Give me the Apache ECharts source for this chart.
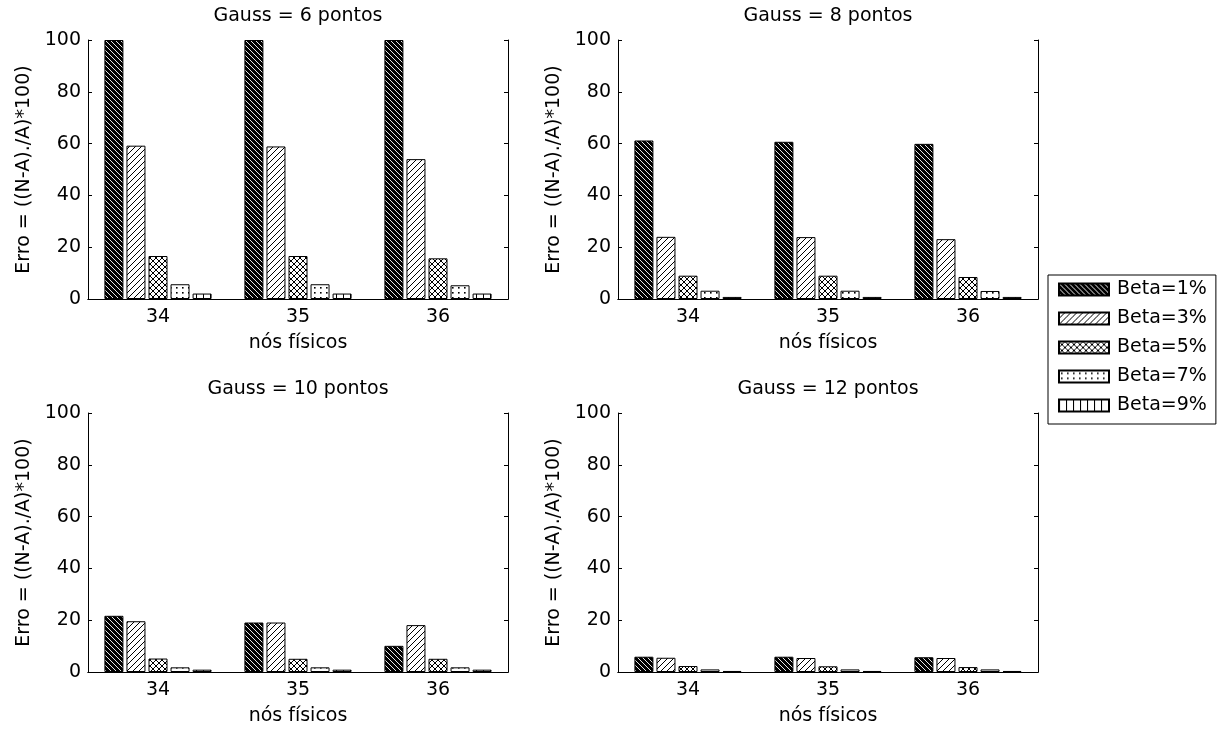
<!DOCTYPE html>
<html>
<head>
<meta charset="utf-8">
<script src="https://cdn.jsdelivr.net/npm/echarts@6/dist/echarts.min.js"></script>
<style>
html,body{margin:0;padding:0;background:#fff;}
#chart{width:1221px;height:731px;}
</style>
</head>
<body>
<div id="chart"></div>
<script>
// ---- data ----
const categories = ['34', '35', '36'];
const seriesNames = ['Beta=1%', 'Beta=3%', 'Beta=5%', 'Beta=7%', 'Beta=9%'];
const panelTitles = ['Gauss = 6 pontos', 'Gauss = 8 pontos', 'Gauss = 10 pontos', 'Gauss = 12 pontos'];
const xLabel = 'nós físicos';
const yLabel = 'Erro = ((N-A)./A)*100)';
// each row: one Beta series across categories 34, 35, 36
const gauss6 = [
  [100, 100, 100],
  [59.2, 58.9, 54.0],
  [16.6, 16.6, 15.7],
  [5.7, 5.7, 5.3],
  [2.1, 2.1, 2.1]
];
const gauss8 = [
  [61.2, 60.7, 59.9],
  [24.0, 23.9, 23.1],
  [9.0, 9.0, 8.5],
  [3.2, 3.2, 3.1],
  [0.8, 0.8, 0.8]
];
const gauss10 = [
  [21.7, 19.1, 10.1],
  [19.6, 19.1, 18.1],
  [5.2, 5.1, 5.1],
  [1.8, 1.8, 1.8],
  [0.9, 0.9, 0.9]
];
const gauss12 = [
  [5.9, 5.9, 5.7],
  [5.5, 5.4, 5.4],
  [2.3, 2.2, 1.9],
  [1.0, 1.0, 1.0],
  [0.4, 0.4, 0.4]
];
const yTicks = [0, 20, 40, 60, 80, 100];
const panels = [gauss6, gauss8, gauss10, gauss12];

// ---- hatch patterns ----
function makePattern(kind) {
  const c = document.createElement('canvas');
  let w = 6, h = 6;
  if (kind === 0) { w = h = 5; }
  if (kind === 3) { w = 6; h = 5; }
  if (kind === 4) { w = 7; h = 4; }
  c.width = w; c.height = h;
  const ctx = c.getContext('2d');
  ctx.fillStyle = kind === 0 ? '#000' : '#fff';
  ctx.fillRect(0, 0, w, h);
  ctx.lineWidth = 1;
  if (kind === 0) {
    ctx.strokeStyle = '#e6e6e6';
    ctx.beginPath();
    for (let k = -1; k <= 1; k++) { ctx.moveTo(k * w, 0); ctx.lineTo(k * w + w, h); }
    ctx.stroke();
  } else if (kind === 1) {
    ctx.strokeStyle = '#000';
    ctx.beginPath();
    for (let k = -1; k <= 1; k++) { ctx.moveTo(k * w, h); ctx.lineTo(k * w + w, 0); }
    ctx.stroke();
  } else if (kind === 2) {
    ctx.strokeStyle = '#000';
    ctx.beginPath();
    for (let k = -1; k <= 1; k++) {
      ctx.moveTo(k * w, 0); ctx.lineTo(k * w + w, h);
      ctx.moveTo(k * w, h); ctx.lineTo(k * w + w, 0);
    }
    ctx.stroke();
  } else if (kind === 3) {
    ctx.fillStyle = '#000';
    ctx.fillRect(2, 2, 1.6, 1.6);
  } else if (kind === 4) {
    ctx.fillStyle = '#000';
    ctx.fillRect(0, 0, 1, h);
  }
  return { image: c, repeat: 'repeat' };
}
const patterns = [0, 1, 2, 3, 4].map(makePattern);

// ---- layout ----
const FONT = 'DejaVu Sans';
const FS = 19;
const gridBoxes = [
  { left: 88, top: 40, width: 420, height: 259 },
  { left: 618, top: 40, width: 420, height: 259 },
  { left: 88, top: 413, width: 420, height: 259 },
  { left: 618, top: 413, width: 420, height: 259 }
];

const grid = [], xAxis = [], yAxis = [], series = [];
const lineStyle = { color: '#000', width: 1 };
gridBoxes.forEach((g, i) => {
  grid.push(Object.assign({ containLabel: false }, g));
  xAxis.push({
    type: 'category', gridIndex: i, position: 'bottom', data: categories,
    name: xLabel, nameLocation: 'middle', nameGap: 35,
    nameTextStyle: { color: '#000', fontSize: FS, fontFamily: FONT },
    axisLine: { lineStyle }, axisTick: { inside: true, alignWithLabel: true, length: 4, lineStyle },
    axisLabel: { color: '#000', fontSize: FS, fontFamily: FONT, margin: 9 }
  });
  xAxis.push({
    type: 'category', gridIndex: i, position: 'top', data: categories,
    name: panelTitles[i], nameLocation: 'middle', nameGap: 14,
    nameTextStyle: { color: '#000', fontSize: FS, fontFamily: FONT },
    axisLine: { lineStyle }, axisTick: { inside: true, alignWithLabel: true, length: 4, lineStyle },
    axisLabel: { show: false }
  });
  yAxis.push({
    type: 'value', gridIndex: i, position: 'left', min: 0, max: 100, interval: 20,
    name: yLabel, nameLocation: 'middle', nameGap: 54,
    nameTextStyle: { color: '#000', fontSize: FS, fontFamily: FONT },
    axisLine: { show: true, lineStyle }, axisTick: { show: true, inside: true, length: 4, lineStyle },
    axisLabel: { color: '#000', fontSize: FS, fontFamily: FONT, margin: 7,
      customValues: yTicks },
    splitLine: { show: false }
  });
  yAxis.push({
    type: 'value', gridIndex: i, position: 'right', min: 0, max: 100, interval: 20,
    axisLine: { show: true, lineStyle }, axisTick: { show: true, inside: true, length: 4, lineStyle },
    axisLabel: { show: false }, splitLine: { show: false }
  });
  panels[i].forEach((vals, b) => {
    series.push({
      type: 'bar', name: seriesNames[b],
      xAxisIndex: 2 * i, yAxisIndex: 2 * i,
      data: vals, barWidth: 19, barGap: '16%',
      itemStyle: { color: patterns[b], borderColor: '#000', borderWidth: 1 },
      emphasis: { disabled: true }
    });
  });
});

const chart = echarts.init(document.getElementById('chart'), null, { renderer: 'canvas' });
chart.setOption({
  animation: false,
  backgroundColor: '#fff',
  grid, xAxis, yAxis, series,
  legend: {
    data: seriesNames, orient: 'vertical', left: 1048, top: 275,
    itemWidth: 50, itemHeight: 12, itemGap: 10,
    padding: [5, 9, 9, 10],
    borderColor: '#000', borderWidth: 1,
    icon: 'rect',
    textStyle: { color: '#000', fontSize: FS, fontFamily: FONT, padding: [0, 0, 0, 3] }
  }
});
</script>
</body>
</html>
